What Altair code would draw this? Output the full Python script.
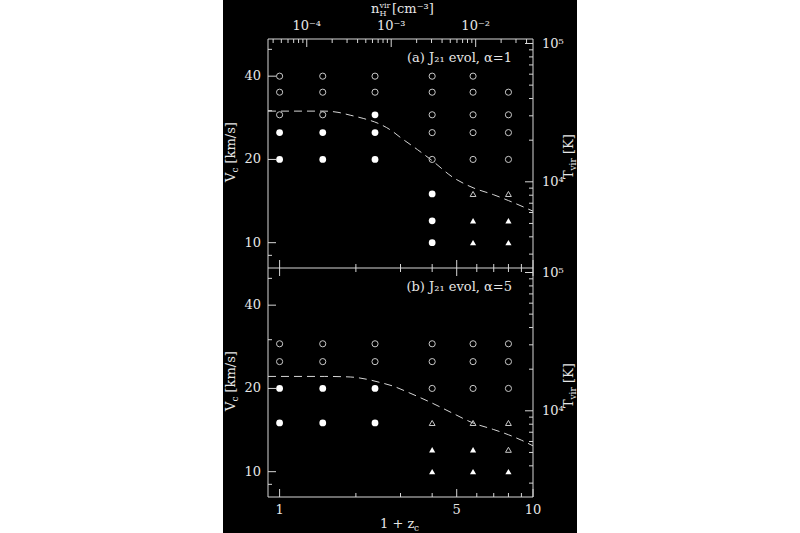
import altair as alt
import pandas as pd

# ---------------- data ----------------
# panel (a): J21 evol, alpha=1
a_x = [1, 1, 1, 1, 1,
       1.48, 1.48, 1.48, 1.48, 1.48,
       2.38, 2.38, 2.38, 2.38, 2.38,
       4, 4, 4, 4, 4, 4, 4, 4,
       5.8, 5.8, 5.8, 5.8, 5.8, 5.8, 5.8, 5.8,
       8, 8, 8, 8, 8, 8, 8]
a_vc = [40, 35, 29, 25, 20,
        40, 35, 29, 25, 20,
        40, 35, 29, 25, 20,
        40, 35, 29, 25, 20, 15, 12, 10,
        40, 35, 29, 25, 20, 15, 12, 10,
        35, 29, 25, 20, 15, 12, 10]
a_kind = ["open circle"] * 3 + ["filled circle"] * 2 + \
         ["open circle"] * 3 + ["filled circle"] * 2 + \
         ["open circle"] * 2 + ["filled circle"] * 3 + \
         ["open circle"] * 5 + ["filled circle"] * 3 + \
         ["open circle"] * 5 + ["open triangle"] + ["filled triangle"] * 2 + \
         ["open circle"] * 4 + ["open triangle"] + ["filled triangle"] * 2

# panel (b): J21 evol, alpha=5
b_x = [1, 1, 1, 1,
       1.48, 1.48, 1.48, 1.48,
       2.38, 2.38, 2.38, 2.38,
       4, 4, 4, 4, 4, 4,
       5.8, 5.8, 5.8, 5.8, 5.8, 5.8,
       8, 8, 8, 8, 8, 8]
b_vc = [29, 25, 20, 15,
        29, 25, 20, 15,
        29, 25, 20, 15,
        29, 25, 20, 15, 12, 10,
        29, 25, 20, 15, 12, 10,
        29, 25, 20, 15, 12, 10]
b_kind = (["open circle"] * 2 + ["filled circle"] * 2) * 3 + \
         (["open circle"] * 3 + ["open triangle"] + ["filled triangle"] * 2) * 2 + \
         ["open circle"] * 3 + ["open triangle"] * 2 + ["filled triangle"]

# dashed curves
curve_a_x = [0.9, 1.5, 1.7, 1.9, 2.15, 2.45, 2.75, 3.0, 3.5, 4.0, 4.8, 5.8, 7.0, 8.0, 10.0]
curve_a_vc = [29.9, 29.9, 29.6, 28.9, 28.1, 27.0, 25.5, 24.0, 21.7, 19.8, 17.3, 15.8, 14.9, 14.2, 13.0]
curve_b_x = [0.9, 1.5, 1.9, 2.2, 2.5, 2.8, 3.2, 3.6, 4.0, 4.8, 5.8, 7.0, 8.0, 9.0, 10.0]
curve_b_vc = [22.1, 22.1, 22.0, 21.6, 21.0, 20.4, 19.4, 18.5, 17.7, 16.3, 15.0, 14.2, 13.6, 13.0, 12.4]

# axes
x_domain = [0.9, 10]
vc_domain = [8.1, 54.5]
x_major = [1, 5, 10]
x_minor = [2, 3, 4, 6, 7, 8, 9]
x_labels = ["1", "5", "10"]
vc_major = [10, 20, 40]
vc_minor = [9, 30, 50]
vc_labels = ["10", "20", "40"]
VC_AT_T1E4 = 16.6          # V_c [km/s] where T_vir = 1e4 K
t_major = [1e4, 1e5]
t_minor = [3e3, 4e3, 5e3, 6e3, 7e3, 8e3, 9e3, 2e4, 3e4, 4e4, 5e4, 6e4, 7e4, 8e4, 9e4]
t_labels = ["10⁴", "10⁵"]
N_AT_Z0 = 4.77e-5          # n_H^vir [cm^-3] at 1+z = 1
n_major = [1e-4, 1e-3, 1e-2]
n_minor = [4e-5, 5e-5, 6e-5, 7e-5, 8e-5, 9e-5,
           2e-4, 3e-4, 4e-4, 5e-4, 6e-4, 7e-4, 8e-4, 9e-4,
           2e-3, 3e-3, 4e-3, 5e-3, 6e-3, 7e-3, 8e-3, 9e-3,
           2e-2, 3e-2, 4e-2]
n_labels = ["10⁻⁴", "10⁻³", "10⁻²"]

# ---------------- styling ----------------
W, H = 265, 229
FONT = "DejaVu Serif"
FG = "#e6e6e6"
LINE = "#d6d6d6"
OPEN = "#c8c8c8"
MAJ, MIN = 8, 4

kind_styles = {
    "open circle": dict(shape="circle", filled=False, color=OPEN, size=38, strokeWidth=1, opacity=1),
    "filled circle": dict(shape="circle", filled=True, color="white", size=46, opacity=1),
    "open triangle": dict(shape="triangle-up", filled=False, color=OPEN, size=34, strokeWidth=1, opacity=1),
    "filled triangle": dict(shape="triangle-up", filled=True, color="white", size=38, opacity=1),
}

x_scale = alt.Scale(type="log", domain=x_domain, nice=False)
n_scale = alt.Scale(type="log", domain=[N_AT_Z0 * x_domain[0] ** 3, N_AT_Z0 * x_domain[1] ** 3], nice=False)


def vc_scale(p):
    rng = [H, 0] if p == 0 else [2 * H, H]
    return alt.Scale(type="log", domain=vc_domain, range=rng, nice=False)


def t_scale(p):
    rng = [H, 0] if p == 0 else [2 * H, H]
    dom = [1e4 * (v / VC_AT_T1E4) ** 2 for v in vc_domain]
    return alt.Scale(type="log", domain=dom, range=rng, nice=False)


def xticks(vals, scale, y0, y1):
    return alt.Chart(pd.DataFrame({"v": vals})).mark_rule(color=LINE, strokeWidth=1).encode(
        x=alt.X("v:Q", scale=scale, axis=None), y=alt.value(y0), y2=alt.value(y1))


def yticks(vals, scale, x0, x1):
    return alt.Chart(pd.DataFrame({"v": vals})).mark_rule(color=LINE, strokeWidth=1).encode(
        y=alt.Y("v:Q", scale=scale, axis=None), x=alt.value(x0), x2=alt.value(x1))


def txt(t, x, y, size=13, angle=0, align="left", baseline="alphabetic"):
    kw = dict(font=FONT, fontSize=size, color=FG, align=align, baseline=baseline)
    if angle:
        kw["angle"] = angle
    return alt.Chart(pd.DataFrame({"a": [0]})).mark_text(**kw).encode(
        x=alt.value(x), y=alt.value(y), text=alt.value(t))


layers = []
# black figure background
layers.append(alt.Chart(pd.DataFrame({"a": [0]})).mark_rect(color="black").encode(
    x=alt.value(-45), x2=alt.value(309), y=alt.value(-39), y2=alt.value(494)))
# frame
layers.append(alt.Chart(pd.DataFrame({"a": [0]})).mark_rect(
    fillOpacity=0, stroke=LINE, strokeWidth=1).encode(
    x=alt.value(0), x2=alt.value(W), y=alt.value(0), y2=alt.value(2 * H)))
layers.append(alt.Chart(pd.DataFrame({"a": [0]})).mark_rule(color=LINE, strokeWidth=1).encode(
    x=alt.value(0), x2=alt.value(W), y=alt.value(H)))

# x ticks (1+z) : panel a bottom, panel b top and bottom
for y0, d in [(H, -1), (H, 1), (2 * H, -1)]:
    layers.append(xticks(x_major, x_scale, y0, y0 + d * MAJ))
    layers.append(xticks(x_minor, x_scale, y0, y0 + d * MIN))
# top axis n_H
layers.append(xticks(n_major, n_scale, 0, MAJ))
layers.append(xticks(n_minor, n_scale, 0, MIN))

panels = [(a_x, a_vc, a_kind, curve_a_x, curve_a_vc, "(a) J₂₁ evol, α=1"),
          (b_x, b_vc, b_kind, curve_b_x, curve_b_vc, "(b) J₂₁ evol, α=5")]

for p, (px, pv, pk, cx, cv, lab) in enumerate(panels):
    vs = vc_scale(p)
    ts = t_scale(p)
    off = p * H
    layers.append(yticks(vc_major, vs, 0, MAJ))
    layers.append(yticks(vc_minor, vs, 0, MIN))
    layers.append(yticks(t_major, ts, W - MAJ, W))
    layers.append(yticks(t_minor, ts, W - MIN, W))
    # dashed curve
    layers.append(alt.Chart(pd.DataFrame({"x": cx, "v": cv})).mark_line(
        color=LINE, strokeWidth=1, strokeDash=[8, 5], interpolate="monotone").encode(
        x=alt.X("x:Q", scale=x_scale, axis=None), y=alt.Y("v:Q", scale=vs, axis=None)))
    # markers, one layer per kind
    pts = pd.DataFrame({"x": px, "v": pv, "k": pk})
    for kind, st in kind_styles.items():
        layers.append(alt.Chart(pts).transform_filter(alt.datum.k == kind).mark_point(**st).encode(
            x=alt.X("x:Q", scale=x_scale, axis=None),
            y=alt.Y("v:Q", scale=vs, axis=None)))
    # left labels
    layers.append(alt.Chart(pd.DataFrame({"v": vc_major, "t": vc_labels})).mark_text(
        font=FONT, fontSize=13, color=FG, align="right", baseline="middle").encode(
        y=alt.Y("v:Q", scale=vs, axis=None), x=alt.value(-7), text="t:N"))
    # right labels
    layers.append(alt.Chart(pd.DataFrame({"v": t_major, "t": t_labels})).mark_text(
        font=FONT, fontSize=13, color=FG, align="left", baseline="middle").encode(
        y=alt.Y("v:Q", scale=ts, axis=None), x=alt.value(W + 9), text="t:N"))
    # panel label
    layers.append(txt(lab, 244, off + 19, baseline="middle", align="right"))
    # left title V_c [km/s]
    layers.append(txt("V", -33.5, off + 143, angle=270))
    layers.append(txt("c", -30.5, off + 133.5, size=9, angle=270))
    layers.append(txt("[km/s]", -33.5, off + 124.5, angle=270))
    # right title T_vir [K]
    layers.append(txt("T", 305, off + 140, angle=270))
    layers.append(txt("vir", 308, off + 131.5, size=9, angle=270))
    layers.append(txt("[K]", 305, off + 115, angle=270))

# bottom labels
layers.append(alt.Chart(pd.DataFrame({"v": x_major, "t": x_labels})).mark_text(
    font=FONT, fontSize=13, color=FG, align="center", baseline="middle").encode(
    x=alt.X("v:Q", scale=x_scale, axis=None), y=alt.value(2 * H + 13), text="t:N"))
# top labels
layers.append(alt.Chart(pd.DataFrame({"v": n_major, "t": n_labels})).mark_text(
    font=FONT, fontSize=13, color=FG, align="center", baseline="middle").encode(
    x=alt.X("v:Q", scale=n_scale, axis=None), y=alt.value(-13.5), text="t:N"))
# bottom title 1 + z_c
layers.append(txt("1 + z", 112, 2 * H + 31))
layers.append(txt("c", 146, 2 * H + 33.5, size=9))
# top title n_H^vir [cm^-3]
layers.append(txt("n", 103, -26.5))
layers.append(txt("vir", 111.5, -31, size=8))
layers.append(txt("H", 111.5, -23.5, size=8))
layers.append(txt("[cm⁻³]", 124, -26.5))

chart = alt.layer(*layers).resolve_scale(
    x="independent", y="independent"
).properties(
    width=W, height=2 * H,
    padding={"left": 268, "top": 39, "right": 267, "bottom": 36},
    autosize=alt.AutoSizeParams(type="none"),
    background="white",
).configure_view(stroke="transparent")

chart.save("out.html", embed_options={"renderer": "svg", "actions": False})
